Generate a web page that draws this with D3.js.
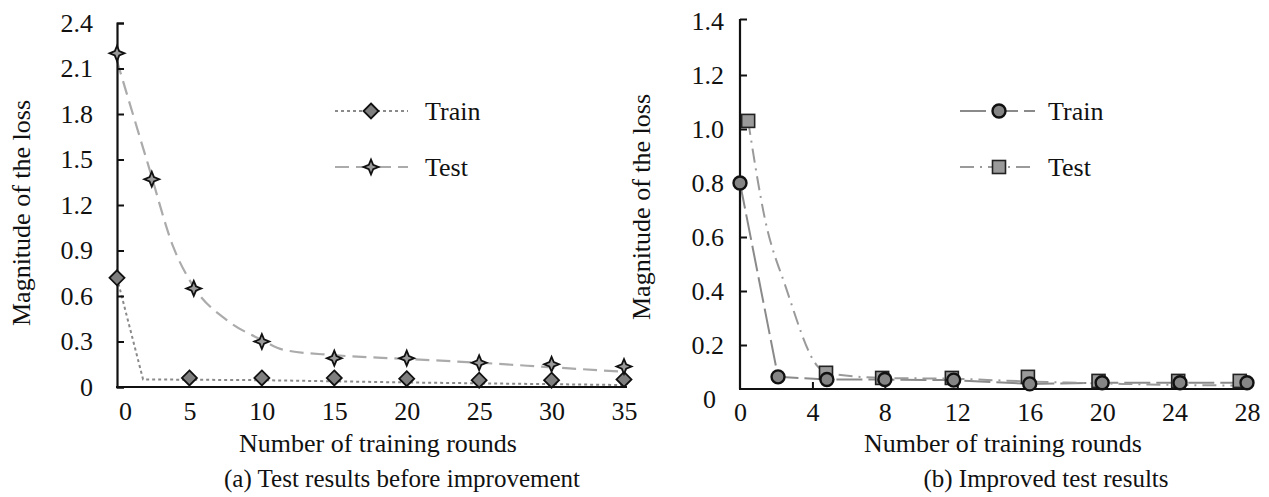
<!DOCTYPE html>
<html>
<head>
<meta charset="utf-8">
<script src="https://cdn.jsdelivr.net/npm/d3@7"></script>
<style>
  html, body { margin: 0; padding: 0; background: #fff; }
  svg { display: block; }
  svg text { font-family: "Liberation Serif", "Tinos", "DejaVu Serif", serif !important; fill: #111; }
</style>
</head>
<body>
<svg id="chart" width="1269" height="497"></svg>
<script>
// ---------- Data: (a) before improvement ----------
const aTrainMarkX = [0, 5, 10, 15, 20, 25, 30, 35];
const aTrainMarkY = [0.72, 0.06, 0.06, 0.06, 0.055, 0.045, 0.045, 0.05];
const aTrainLineX = [0, 1.8, 10, 20, 35];
const aTrainLineY = [0.72, 0.05, 0.045, 0.03, 0.013];
const aTestMarkX = [0, 2.4, 5.3, 10, 15, 20, 25, 30, 35];
const aTestMarkY = [2.2, 1.37, 0.65, 0.30, 0.19, 0.19, 0.16, 0.15, 0.135];
const aTestLineX = [0, 2.2, 3.9, 5.3, 7.6, 10, 11.5, 15, 20, 25, 30, 35];
const aTestLineY = [2.15, 1.45, 0.92, 0.66, 0.44, 0.31, 0.245, 0.21, 0.185, 0.16, 0.13, 0.1];
const aXTicks = [0, 5, 10, 15, 20, 25, 30, 35];
const aYTicks = [0, 0.3, 0.6, 0.9, 1.2, 1.5, 1.8, 2.1, 2.4];

// ---------- Data: (b) improved ----------
const bTrainX = [0, 2.1, 4.8, 8, 11.8, 16, 20, 24.3, 28];
const bTrainY = [0.8, 0.082, 0.072, 0.072, 0.07, 0.056, 0.06, 0.06, 0.06];
const bTestMarkX = [0.45, 4.75, 7.85, 11.7, 15.9, 19.8, 24.2, 27.6];
const bTestMarkY = [1.03, 0.097, 0.078, 0.078, 0.082, 0.067, 0.067, 0.067];
const bTestLineX = [0.45, 1.4, 2.5, 4.3, 4.75, 7.85, 11.7, 15.9, 19.8, 24.2, 27.6];
const bTestLineY = [1.03, 0.66, 0.42, 0.12, 0.097, 0.078, 0.075, 0.065, 0.058, 0.052, 0.05];
const bXTicks = [0, 4, 8, 12, 16, 20, 24, 28];
const bYTicks = [0, 0.2, 0.4, 0.6, 0.8, 1.0, 1.2, 1.4];
const bXAxisAt = 0.037;

const seriesNames = ["Train", "Test"];
const xTitle = "Number of training rounds";
const yTitle = "Magnitude of the loss";
const captions = ["(a) Test results before improvement", "(b) Improved test results"];

const zip = (xs, ys) => xs.map((x, i) => [x, ys[i]]);

const svg = d3.select("#chart");
svg.append("rect").attr("width", 1269).attr("height", 497).attr("fill", "#fff");

const FONT = "'Liberation Serif', 'Tinos', 'DejaVu Serif', serif";
const FS = 26;
const starPath = "M0,-7.5L2.2,-2.2L7.5,0L2.2,2.2L0,7.5L-2.2,2.2L-7.5,0L-2.2,-2.2Z";
const diamondPath = "M0,-7.5L7.5,0L0,7.5L-7.5,0Z";

function drawMarker(g, type, x, y) {
  if (type === "diamond") {
    g.append("path").attr("d", diamondPath).attr("transform", `translate(${x},${y})`)
      .attr("fill", "#7f7f7f").attr("stroke", "#111").attr("stroke-width", 1.8);
  } else if (type === "star") {
    g.append("path").attr("d", starPath).attr("transform", `translate(${x},${y})`)
      .attr("fill", "#9a9a9a").attr("stroke", "#111").attr("stroke-width", 1.8)
      .attr("stroke-linejoin", "miter");
  } else if (type === "circle") {
    g.append("circle").attr("cx", x).attr("cy", y).attr("r", 6.5)
      .attr("fill", "#858585").attr("stroke", "#111").attr("stroke-width", 2.4);
  } else if (type === "square") {
    g.append("rect").attr("x", x - 6.5).attr("y", y - 6.5).attr("width", 13).attr("height", 13)
      .attr("fill", "#9a9a9a").attr("stroke", "#222").attr("stroke-width", 1.6);
  }
}

const styles = {
  aTrain: { stroke: "#8a8a8a", width: 2, dash: "3,3" },
  aTest: { stroke: "#ababab", width: 2.2, dash: "14,7" },
  bTrain: { stroke: "#8a8a8a", width: 2, dash: "26,6" },
  bTest: { stroke: "#9a9a9a", width: 2, dash: "14,6,2,6" }
};

function drawLine(g, pts, x, y, st, curve) {
  const gen = d3.line().x(d => x(d[0])).y(d => y(d[1])).curve(curve || d3.curveLinear);
  g.append("path").attr("d", gen(pts)).attr("fill", "none")
    .attr("stroke", st.stroke).attr("stroke-width", st.width)
    .attr("stroke-dasharray", st.dash);
}

function addText(g, x, y, str, size, rotate) {
  const t = g.append("text").attr("text-anchor", "middle").attr("dominant-baseline", "central")
    .attr("font-family", FONT).attr("font-size", size).text(str);
  if (rotate) t.attr("transform", `translate(${x},${y}) rotate(-90)`);
  else t.attr("x", x).attr("y", y);
  return t;
}

function legend(g, x0, x1, mx, tx, y, st, marker, label) {
  g.append("line").attr("x1", x0).attr("x2", x1).attr("y1", y).attr("y2", y)
    .attr("stroke", st.stroke).attr("stroke-width", st.width).attr("stroke-dasharray", st.dash);
  drawMarker(g, marker, mx, y);
  g.append("text").attr("x", tx).attr("y", y).attr("dominant-baseline", "central")
    .attr("font-family", FONT).attr("font-size", FS).text(label);
}

function styleAxis(sel) {
  sel.attr("font-family", FONT).attr("font-size", FS);
  sel.selectAll("text").attr("fill", "#111");
  sel.selectAll("line").attr("stroke", "#111").attr("stroke-width", 2);
  sel.selectAll("path").attr("stroke", "#111").attr("stroke-width", 2.2);
}

// ================= Panel (a) =================
{
  const x = d3.scaleLinear().domain([0, 35]).range([117, 624]);
  const y = d3.scaleLinear().domain([0, 2.4]).range([387, 23]);
  const g = svg.append("g");

  drawLine(g, zip(aTrainLineX, aTrainLineY), x, y, styles.aTrain);
  drawLine(g, zip(aTestLineX, aTestLineY), x, y, styles.aTest, d3.curveMonotoneX);

  const ya = g.append("g").attr("transform", `translate(${x(0)},0)`)
    .call(d3.axisLeft(y).tickValues(aYTicks).tickFormat(d => d === 0 ? "0" : d3.format(".1f")(d))
      .tickSizeInner(-7).tickSizeOuter(-7).tickPadding(24));
  styleAxis(ya);
  const xa = g.append("g").attr("transform", `translate(0,${y(0)})`)
    .call(d3.axisBottom(x).tickValues(aXTicks).tickSizeInner(0).tickSizeOuter(0).tickPadding(15));
  styleAxis(xa);
  xa.select(".domain").attr("d", `M${x(0) - 1},0H${x(35) + 3}`);
  xa.selectAll(".tick").filter(d => d === 0).select("text").attr("dx", 8);

  zip(aTrainMarkX, aTrainMarkY).forEach(d => drawMarker(g, "diamond", x(d[0]), y(d[1])));
  zip(aTestMarkX, aTestMarkY).forEach(d => drawMarker(g, "star", x(d[0]), y(d[1])));

  legend(g, 335, 408, 371, 425, 111, styles.aTrain, "diamond", seriesNames[0]);
  legend(g, 335, 408, 371, 425, 167, styles.aTest, "star", seriesNames[1]);

  addText(g, 21, 213, yTitle, FS, true);
  addText(g, 378, 443, xTitle, FS);
  addText(g, 402, 478, captions[0], 25);
}

// ================= Panel (b) =================
{
  const x = d3.scaleLinear().domain([0, 28]).range([740, 1247]);
  const y = d3.scaleLinear().domain([0, 1.4]).range([399, 21]);
  const g = svg.append("g");

  drawLine(g, zip(bTrainX, bTrainY), x, y, styles.bTrain);
  drawLine(g, zip(bTestLineX, bTestLineY), x, y, styles.bTest, d3.curveMonotoneX);

  const ya = g.append("g").attr("transform", `translate(${x(0)},0)`)
    .call(d3.axisLeft(y).tickValues(bYTicks).tickFormat(d => d === 0 ? "0" : d3.format(".1f")(d))
      .tickSizeInner(-7).tickSizeOuter(0).tickPadding(16));
  styleAxis(ya);
  ya.select(".domain").attr("d", `M0,${y(bXAxisAt)}V${y(1.4) - 2}`);
  ya.selectAll(".tick").filter(d => d === 0).select("line").remove();
  ya.selectAll(".tick").filter(d => d === 0).select("text").attr("dx", -8);
  ya.selectAll(".tick").filter(d => d === 1.4).select("line").attr("transform", "translate(0,-2)");

  const xa = g.append("g").attr("transform", `translate(0,${y(bXAxisAt)})`)
    .call(d3.axisBottom(x).tickValues(bXTicks).tickSizeInner(-7).tickSizeOuter(0).tickPadding(14));
  styleAxis(xa);
  xa.select(".domain").attr("d", `M${x(0) - 1},0H${x(28) + 3}`);
  xa.selectAll(".tick").filter(d => d === 0).select("line").remove();

  zip(bTestMarkX, bTestMarkY).forEach(d => drawMarker(g, "square", x(d[0]), y(d[1])));
  zip(bTrainX, bTrainY).forEach(d => drawMarker(g, "circle", x(d[0]), y(d[1])));

  legend(g, 960, 1035, 999, 1048, 111, styles.bTrain, "circle", seriesNames[0]);
  legend(g, 960, 1035, 999, 1048, 167, styles.bTest, "square", seriesNames[1]);

  addText(g, 641, 207, yTitle, FS, true);
  addText(g, 1003, 443, xTitle, FS);
  addText(g, 1046, 478, captions[1], 25);
}
</script>
</body>
</html>
